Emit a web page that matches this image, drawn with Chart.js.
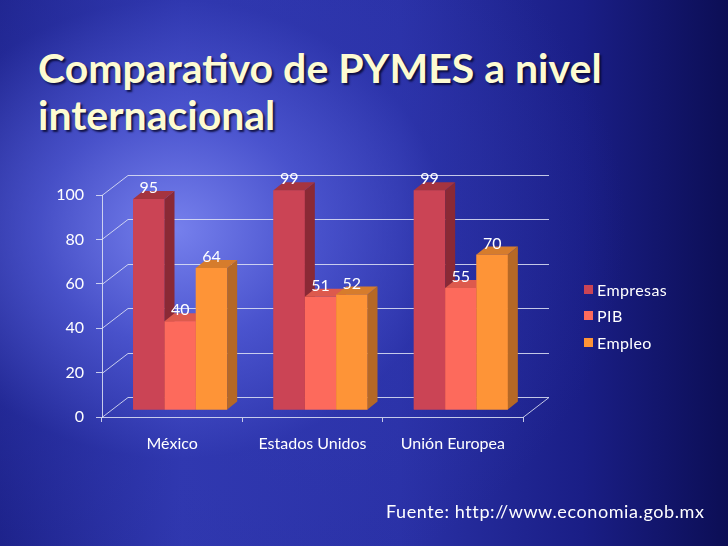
<!DOCTYPE html>
<html>
<head>
<meta charset="utf-8">
<script src="https://cdn.jsdelivr.net/npm/chart.js@4.4.1/dist/chart.umd.min.js"></script>
<style>
  html, body { margin: 0; padding: 0; }
  body {
    width: 728px; height: 546px; overflow: hidden; position: relative;
    background:
      radial-gradient(ellipse 62% 70% at 24% 42%, rgba(122,132,240,0.95) 0%, rgba(86,96,220,0.7) 30%, rgba(50,58,180,0.3) 60%, rgba(0,0,0,0) 100%),
      linear-gradient(to right, #1c2188 0%, #2f37ae 25%, #2a31a6 55%, #1a1e86 80%, #0c0e55 100%);
  }
  #title {
    position: absolute; left: 38px; top: 44px;
    font-family: "Lato", sans-serif; font-weight: bold; font-size: 41px; line-height: 47px;
    color: #fdfbd2; text-shadow: 2px 2px 2px rgba(5, 5, 40, 0.8);
    white-space: nowrap;
  }
  #chart { position: absolute; left: 0; top: 0; }
  #legend { position: absolute; left: 584px; top: 276px; font-family: "Lato", sans-serif; font-size: 16px; letter-spacing: 0.4px; color: #fff; }
  #legend div { height: 26.5px; display: flex; align-items: center; }
  #legend span.box { display: inline-block; width: 9px; height: 9px; margin-right: 4px; }
  #source { position: absolute; left: 386px; top: 500px; font-family: "Lato", sans-serif; font-size: 18px; letter-spacing: 0.6px; color: #fff; }
</style>
</head>
<body>
<div id="title">Comparativo de PYMES a nivel<br>internacional</div>
<canvas id="chart" width="728" height="546"></canvas>
<div id="legend"></div>
<div id="source">Fuente: http://www.economia.gob.mx</div>
<script>
// === Datos ===
const categories = ["México", "Estados Unidos", "Unión Europea"];
const seriesNames = ["Empresas", "PIB", "Empleo"];
const empresas = [95, 99, 99];
const pib = [40, 51, 55];
const empleo = [64, 52, 70];
const yTicks = [0, 20, 40, 60, 80, 100];

// colori: fronte, lato, sopra
const frontColors = ["#cb4455", "#fd6a5c", "#fe9437"];
const sideColors = ["#8a2935", "#c24e45", "#b56826"];
const topColors = ["#a5343f", "#dd5a4d", "#d67c2c"];

// profondita' finta 3D
const BAR_DX = 8, BAR_DY = -7;     // barre spostate dentro la scatola
const DEPTH_X = 10, DEPTH_Y = -8;  // spessore barre
const WALL_DX = 26, WALL_DY = -20; // parete di fondo
const lineColor = "rgba(225,228,245,0.85)";

// === Legenda ===
const legend = document.getElementById("legend");
seriesNames.forEach((name, i) => {
  legend.insertAdjacentHTML("beforeend",
    `<div><span class="box" style="background:${frontColors[i]}"></span>${name}</div>`);
});

// === Plugin per effetto 3D ===
const fake3d = {
  id: "fake3d",
  beforeDatasetsDraw(chart) {
    const ctx = chart.ctx;
    const y = chart.scales.y;
    const a = chart.chartArea;
    ctx.save();
    ctx.strokeStyle = lineColor;
    ctx.lineWidth = 1;
    yTicks.forEach(v => {
      const py = Math.round(y.getPixelForValue(v)) + 0.5;
      ctx.beginPath();
      ctx.moveTo(a.left, py);
      ctx.lineTo(a.left + WALL_DX, py + WALL_DY);
      ctx.lineTo(a.right + WALL_DX, py + WALL_DY);
      ctx.stroke();
    });
    // diagonale a destra del pavimento
    const p0 = Math.round(y.getPixelForValue(0)) + 0.5;
    ctx.beginPath();
    ctx.moveTo(a.right, p0);
    ctx.lineTo(a.right + WALL_DX, p0 + WALL_DY);
    ctx.stroke();
    ctx.restore();

    ctx.save();
    ctx.translate(BAR_DX, BAR_DY);
  },
  afterDatasetsDraw(chart) {
    const ctx = chart.ctx;
    const metas = chart.data.datasets.map((d, i) => chart.getDatasetMeta(i));
    categories.forEach((c, i) => {
      metas.forEach((meta, d) => {
        const b = meta.data[i].getProps(["x", "y", "base", "width"], true);
        const l = b.x - b.width / 2, r = b.x + b.width / 2;
        // fronte
        ctx.fillStyle = frontColors[d];
        ctx.fillRect(l, b.y, b.width, b.base - b.y);
        // lato
        ctx.fillStyle = sideColors[d];
        ctx.beginPath();
        ctx.moveTo(r, b.base);
        ctx.lineTo(r, b.y);
        ctx.lineTo(r + DEPTH_X, b.y + DEPTH_Y);
        ctx.lineTo(r + DEPTH_X, b.base + DEPTH_Y);
        ctx.closePath();
        ctx.fill();
        // sopra
        ctx.fillStyle = topColors[d];
        ctx.beginPath();
        ctx.moveTo(l, b.y);
        ctx.lineTo(r, b.y);
        ctx.lineTo(r + DEPTH_X, b.y + DEPTH_Y);
        ctx.lineTo(l + DEPTH_X, b.y + DEPTH_Y);
        ctx.closePath();
        ctx.fill();
      });
    });
    // etichette valori
    ctx.fillStyle = "#ffffff";
    ctx.font = "16px Lato";
    ctx.textAlign = "center";
    ctx.textBaseline = "middle";
    metas.forEach((meta, d) => {
      meta.data.forEach((el, i) => {
        const b = el.getProps(["x", "y"], true);
        ctx.fillText(chart.data.datasets[d].data[i], b.x, b.y - 11);
      });
    });
    ctx.restore();
  }
};

// === Grafico ===
const ctx = document.getElementById("chart").getContext("2d");
const chart = new Chart(ctx, {
  type: "bar",
  data: {
    labels: categories,
    datasets: [empresas, pib, empleo].map((vals, i) => ({
      label: seriesNames[i],
      data: vals,
      backgroundColor: frontColors[i],
      borderWidth: 0,
      barPercentage: 1,
      categoryPercentage: 0.67
    }))
  },
  options: {
    responsive: false,
    animation: false,
    layout: { padding: { left: 0, top: 195, right: 205, bottom: 0 } },
    plugins: {
      legend: { display: false },
      tooltip: { enabled: false }
    },
    scales: {
      x: {
        grid: { drawOnChartArea: false, drawTicks: true, tickLength: 5, color: lineColor, offset: true },
        border: { color: lineColor },
        ticks: { color: "#ffffff", font: { family: "Lato", size: 16 }, padding: 12 },
        afterFit: s => { s.height = 129; }
      },
      y: {
        min: 0, max: 100,
        afterBuildTicks: s => { s.ticks = yTicks.map(v => ({ value: v })); },
        grid: { drawOnChartArea: false, drawTicks: true, tickLength: 6, color: lineColor },
        border: { color: lineColor },
        ticks: { color: "#ffffff", font: { family: "Lato", size: 16 }, padding: 12 },
        afterFit: s => { s.width = 102; }
      }
    }
  },
  plugins: [fake3d]
});
</script>
</body>
</html>
